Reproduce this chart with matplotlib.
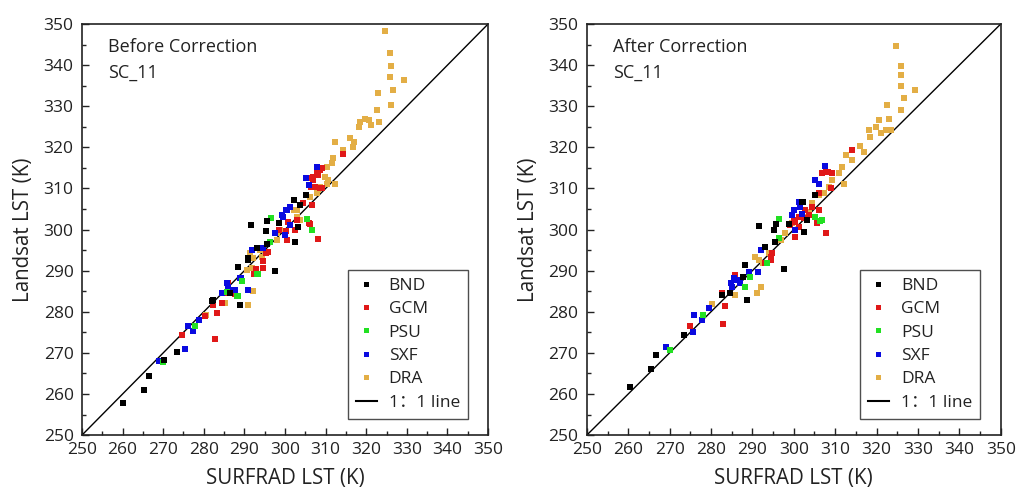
import matplotlib
matplotlib.use("Agg")
import matplotlib.pyplot as plt
from matplotlib.lines import Line2D
from matplotlib.ticker import MultipleLocator

plt.rcParams['font.family'] = ['Open Sans', 'Noto Sans CJK SC', 'DejaVu Sans']

stations = ['BND', 'GCM', 'PSU', 'SXF', 'DRA']
colors = {'BND': '#000000', 'GCM': '#e01818', 'PSU': '#22e022',
          'SXF': '#0a0ae0', 'DRA': '#e3ae45'}

# before correction: (SURFRAD, Landsat)
bnd_x_b = [260.2, 265.3, 266.5, 270.2, 273.3, 281.9, 282.2, 286.5, 288.3, 288.8, 290.8, 291.6, 293.0,
           295.3, 295.6, 295.6, 297.6, 298.6, 302.2, 302.5, 303.3, 303.7, 305.2, 291.0, 302.5]
bnd_y_b = [257.9, 260.9, 264.5, 268.2, 270.3, 282.6, 282.8, 284.5, 290.9, 281.6, 293.2, 301.1, 295.6,
           299.7, 302.0, 296.6, 289.9, 301.5, 307.1, 297.0, 300.7, 306.0, 308.3, 292.7, 297.0]
gcm_x_b = [282.8, 283.3, 274.6, 280.4, 282.3, 284.4, 285.6, 287.7, 292.4, 292.8, 294.7, 295.3, 298.4,
           300.2, 300.4, 300.8, 302.9, 304.5, 306.6, 308.0, 306.2, 307.0, 308.2, 307.0, 307.4, 308.6,
           306.5, 309.0, 314.4, 302.5, 306.0, 295.9, 294.7, 286.0, 306.6, 307.8, 308.6, 309.0]
gcm_y_b = [273.3, 279.8, 274.3, 279.0, 281.6, 282.2, 284.5, 284.3, 289.2, 290.3, 292.4, 294.4, 300.0,
           299.7, 297.4, 301.9, 302.3, 306.5, 306.0, 297.7, 301.3, 312.9, 313.3, 312.0, 310.4, 310.0,
           310.4, 314.9, 318.4, 299.9, 301.5, 294.6, 290.6, 287.1, 312.5, 313.7, 314.5, 310.0]
psu_x_b = [270.0, 277.8, 285.6, 288.3, 289.5, 293.2, 296.5, 296.3, 305.5, 306.7, 293.3, 288.1]
psu_y_b = [267.8, 276.6, 284.9, 283.8, 287.5, 289.3, 302.9, 297.0, 302.5, 300.0, 289.3, 283.8]
sxf_x_b = [269.0, 275.3, 277.4, 276.0, 278.9, 285.6, 286.0, 286.9, 287.7, 284.6, 289.2, 291.0, 291.9,
           294.7, 297.5, 299.2, 299.6, 300.2, 301.2, 301.2, 305.2, 305.8, 307.8, 300.4, 300.0, 288.9,
           286.0]
sxf_y_b = [268.1, 270.9, 275.4, 276.5, 278.0, 286.9, 286.1, 285.3, 285.3, 284.5, 288.1, 285.3, 295.0,
           295.4, 299.1, 303.5, 303.1, 304.7, 305.4, 301.1, 312.5, 310.8, 315.3, 304.7, 298.7, 288.1,
           285.6]
dra_x_b = [291.0, 292.0, 285.2, 280.5, 291.4, 292.2, 293.8, 294.3, 298.0, 298.8, 302.1, 302.9, 303.7,
           306.2, 307.8, 308.6, 309.9, 310.7, 310.3, 311.5, 311.9, 312.3, 314.4, 316.0, 317.0, 316.8,
           312.3, 318.2, 318.5, 319.7, 320.8, 321.1, 322.6, 323.2, 322.8, 326.0, 326.7, 325.8, 326.0,
           325.8, 324.6, 329.3, 302.9, 298.0, 291.8, 290.6, 310.3, 308.0]
dra_y_b = [281.6, 285.1, 282.2, 279.2, 294.2, 293.0, 295.0, 293.4, 299.1, 299.9, 304.7, 303.1, 302.3,
           308.0, 308.8, 310.4, 312.9, 312.0, 315.3, 316.1, 317.3, 311.2, 319.3, 322.2, 321.4, 320.2,
           321.2, 325.0, 326.1, 327.0, 326.6, 325.4, 329.1, 326.2, 333.1, 330.3, 333.9, 337.2, 339.9,
           343.0, 348.3, 336.5, 304.7, 297.4, 290.6, 290.1, 311.2, 309.6]

# after correction
bnd_x_a = [260.5, 265.5, 266.7, 273.5, 282.7, 284.7, 287.7, 288.3, 288.7, 291.7, 293.1, 295.3, 295.8,
           295.4, 297.6, 298.8, 302.2, 302.4, 303.2, 305.1, 302.0, 302.4]
bnd_y_a = [261.8, 266.2, 269.5, 274.3, 284.1, 284.5, 288.4, 291.5, 282.8, 300.9, 295.8, 299.9, 301.3,
           297.0, 290.3, 301.3, 306.8, 299.3, 302.3, 308.4, 306.8, 299.5]
gcm_x_a = [282.9, 283.5, 275.0, 282.7, 285.9, 294.8, 294.5, 293.1, 300.2, 300.0, 301.2, 302.8, 304.4,
           306.0, 307.8, 306.0, 306.9, 307.7, 309.3, 314.1, 308.9, 299.2, 300.4, 301.2, 302.4, 303.6,
           305.6, 294.4, 308.2]
gcm_y_a = [277.0, 281.5, 276.6, 284.5, 288.9, 294.2, 292.7, 291.8, 298.1, 302.3, 303.1, 304.7, 305.6,
           304.7, 299.2, 308.8, 313.7, 314.1, 313.8, 319.3, 310.0, 301.1, 301.9, 300.7, 302.7, 303.5,
           301.5, 293.4, 314.0]
psu_x_a = [270.2, 278.0, 288.3, 289.5, 293.5, 296.5, 296.4, 305.2, 306.7, 306.4]
psu_y_a = [270.7, 279.2, 286.1, 288.5, 291.8, 302.6, 297.9, 303.1, 302.3, 302.0]
sxf_x_a = [269.2, 275.6, 276.0, 277.8, 279.6, 285.1, 285.5, 286.3, 287.1, 289.1, 291.3, 292.1, 300.0,
           300.4, 301.2, 302.0, 305.2, 306.0, 307.5, 301.6, 299.6, 284.8]
sxf_y_a = [271.5, 275.1, 279.2, 278.0, 280.8, 286.1, 288.1, 287.7, 286.9, 289.7, 289.7, 295.0, 304.7,
           299.9, 306.8, 303.9, 312.0, 311.2, 315.5, 305.6, 303.5, 287.0]
dra_x_a = [291.1, 292.2, 285.7, 280.2, 290.7, 291.5, 294.0, 298.0, 299.6, 302.8, 304.4, 306.0, 308.5,
           309.3, 310.9, 311.7, 312.1, 312.5, 314.1, 316.1, 316.9, 318.1, 318.5, 319.8, 320.6, 321.0,
           322.2, 322.6, 323.0, 323.4, 325.8, 326.6, 329.4, 325.8, 325.8, 325.8, 324.8, 303.6, 296.8,
           292.6, 307.2]
dra_y_a = [284.6, 286.1, 284.1, 281.9, 293.4, 292.6, 294.2, 299.1, 301.5, 303.1, 306.4, 308.4, 310.4,
           312.0, 313.7, 315.3, 311.2, 318.1, 316.9, 320.3, 318.9, 324.2, 322.6, 325.0, 326.6, 323.4,
           324.2, 330.3, 327.0, 324.2, 329.1, 331.9, 333.9, 334.8, 337.6, 339.8, 344.6, 304.2, 297.4,
           291.8, 309.0]

before = {'BND': (bnd_x_b, bnd_y_b), 'GCM': (gcm_x_b, gcm_y_b), 'PSU': (psu_x_b, psu_y_b),
          'SXF': (sxf_x_b, sxf_y_b), 'DRA': (dra_x_b, dra_y_b)}
after = {'BND': (bnd_x_a, bnd_y_a), 'GCM': (gcm_x_a, gcm_y_a), 'PSU': (psu_x_a, psu_y_a),
         'SXF': (sxf_x_a, sxf_y_a), 'DRA': (dra_x_a, dra_y_a)}

fig = plt.figure(figsize=(10.17, 4.9), dpi=100)
ax1 = fig.add_axes([0.0806, 0.112, 0.3993, 0.839])
ax2 = fig.add_axes([0.577, 0.112, 0.407, 0.839])

for ax, data, title in [(ax1, before, 'Before Correction'), (ax2, after, 'After Correction')]:
    handles = []
    for st in ['DRA', 'GCM', 'SXF', 'PSU', 'BND']:
        x, y = data[st]
        ax.plot(x, y, 's', color=colors[st], ms=4.8, mew=0, ls='none', zorder=3)
    for st in stations:
        handles.append(Line2D([], [], marker='s', color=colors[st], ls='none', ms=3.6, mew=0, label=st))
    ax.plot([250, 350], [250, 350], color='black', lw=1.0, zorder=2)
    handles.append(Line2D([], [], color='black', lw=1.5, label='1：1 line'))

    ax.set_xlim(250, 350)
    ax.set_ylim(250, 350)
    ax.xaxis.set_major_locator(MultipleLocator(10))
    ax.yaxis.set_major_locator(MultipleLocator(10))
    ax.xaxis.set_minor_locator(MultipleLocator(5))
    ax.yaxis.set_minor_locator(MultipleLocator(5))
    ax.tick_params(which='both', direction='in', top=False, right=False, labelsize=12.5,
                   colors='#222222')
    ax.tick_params(axis='x', pad=5)
    ax.tick_params(axis='y', pad=6)
    ax.tick_params(which='major', length=5, width=1)
    ax.tick_params(which='minor', length=3, width=1)
    for sp in ax.spines.values():
        sp.set_linewidth(1.2)
        sp.set_color('#222222')
    ax.set_xlabel('SURFRAD LST (K)', fontsize=14.8, labelpad=7, color='#222222')
    ax.set_ylabel('Landsat LST (K)', fontsize=14.8, labelpad=7, color='#222222')
    ax.text(0.064, 0.945, title, transform=ax.transAxes, fontsize=13, va='center', color='#222222')
    ax.text(0.064, 0.882, 'SC_11', transform=ax.transAxes, fontsize=13, va='center', color='#222222')

    leg = ax.legend(handles=handles, loc='lower right', bbox_to_anchor=(0.95, 0.04),
                    fontsize=12.5, frameon=True, fancybox=False, edgecolor='#222222',
                    handlelength=1.2, handletextpad=0.7, labelspacing=0.42, borderpad=0.45,
                    borderaxespad=0)
    leg.get_frame().set_linewidth(1.0)
    for t in leg.get_texts():
        t.set_color('#222222')

fig.savefig('out.png', dpi=100)
